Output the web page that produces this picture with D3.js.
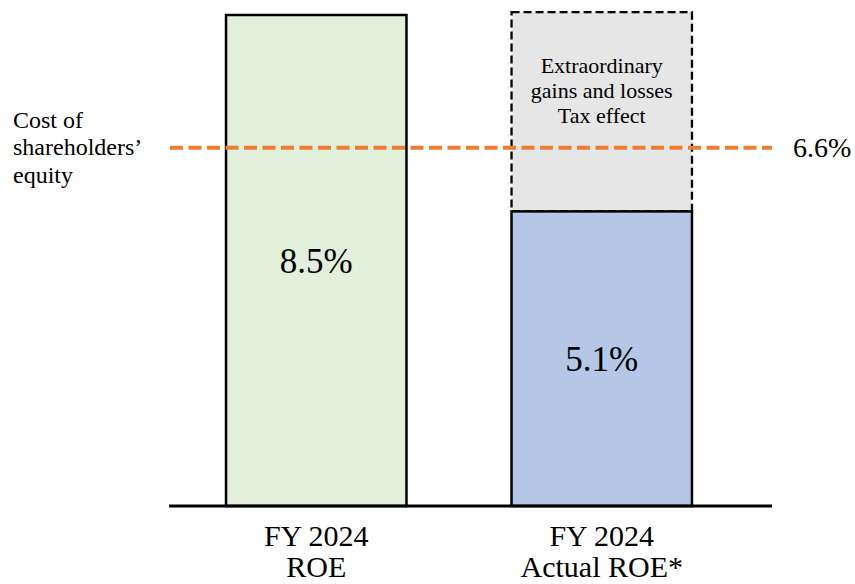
<!DOCTYPE html>
<html>
<head>
<meta charset="utf-8">
<script src="https://cdn.jsdelivr.net/npm/d3@7/dist/d3.min.js"></script>
<style>
  body { margin: 0; background: #fff; }
  text { font-family: "Liberation Serif", "Times New Roman", serif; fill: #000; }
</style>
</head>
<body>
<div id="chart"></div>
<script>
// chart values
const categories = ["FY 2024\nROE", "FY 2024\nActual ROE*"];
const roeValues = [8.5, 5.1];
const roeLabels = ["8.5%", "5.1%"];
const barColors = ["#E2EFDA", "#B4C7E7"];

// extraordinary gains/losses + tax effect, stacked on the actual ROE bar
const adjTop = 8.55;
const adjLines = ["Extraordinary", "gains and losses", "Tax effect"];

// cost of shareholders' equity (line sits at ~6.2 on the bar scale in the picture)
const costLevel = 6.2;
const costLabel = "6.6%";
const costTitle = ["Cost of", "shareholders\u2019", "equity"];

var width = 855, height = 584;

var svg = d3.select("#chart").append("svg")
    .attr("width", width)
    .attr("height", height);

var x = d3.scaleBand()
    .domain(categories)
    .range([173.5, 744.5])
    .paddingInner(0.368)
    .paddingOuter(0.184);

var y = d3.scaleLinear()
    .domain([0, 8.5])
    .range([506, 15]);

//dashed box for extraordinary items
svg.append("rect")
    .attr("x", x(categories[1]))
    .attr("y", y(adjTop))
    .attr("width", x.bandwidth())
    .attr("height", y(roeValues[1]) - y(adjTop))
    .style("fill", "#E6E6E6")
    .style("stroke", "#000")
    .style("stroke-width", 2.3)
    .style("stroke-dasharray", "8,4");

svg.append("g")
    .selectAll("text")
    .data(adjLines)
    .enter()
    .append("text")
    .attr("x", x(categories[1]) + x.bandwidth() / 2)
    .attr("y", function(d, i) { return y(adjTop) + 61 + i * 25; })
    .attr("text-anchor", "middle")
    .style("font-size", "22px")
    .text(function(d) { return d; });

//bars
svg.append("g")
    .selectAll("rect")
    .data(roeValues)
    .enter()
    .append("rect")
    .attr("x", function(d, i) { return x(categories[i]); })
    .attr("y", function(d) { return y(d); })
    .attr("width", x.bandwidth())
    .attr("height", function(d) { return y(0) - y(d); })
    .style("fill", function(d, i) { return barColors[i]; })
    .style("stroke", "#000")
    .style("stroke-width", 2.5);

//value labels in the middle of each bar
svg.append("g")
    .selectAll("text")
    .data(roeValues)
    .enter()
    .append("text")
    .attr("x", function(d, i) { return x(categories[i]) + x.bandwidth() / 2; })
    .attr("y", function(d) { return (y(d) + y(0)) / 2; })
    .attr("dy", "0.35em")
    .attr("text-anchor", "middle")
    .style("font-size", "35px")
    .text(function(d, i) { return roeLabels[i]; });

//baseline
svg.append("line")
    .attr("x1", 169)
    .attr("x2", 772)
    .attr("y1", y(0))
    .attr("y2", y(0))
    .style("stroke", "#000")
    .style("stroke-width", 3);

//category labels
var cat = svg.append("g")
    .selectAll("text")
    .data(categories)
    .enter()
    .append("text")
    .attr("text-anchor", "middle")
    .style("font-size", "30px");

cat.selectAll("tspan")
    .data(function(d) { return d.split("\n").map(function(t) { return {t: t, c: d}; }); })
    .enter()
    .append("tspan")
    .attr("x", function(d) { return x(d.c) + x.bandwidth() / 2; })
    .attr("y", function(d, i) { return 546 + i * 31; })
    .text(function(d) { return d.t; });

//cost of equity line
svg.append("line")
    .attr("x1", 170)
    .attr("x2", 772)
    .attr("y1", y(costLevel))
    .attr("y2", y(costLevel))
    .style("stroke", "#ED7D31")
    .style("stroke-width", 4)
    .style("stroke-dasharray", "13,5.5");

svg.append("text")
    .attr("x", 793)
    .attr("y", y(costLevel) + 9)
    .style("font-size", "28px")
    .text(costLabel);

svg.append("g")
    .selectAll("text")
    .data(costTitle)
    .enter()
    .append("text")
    .attr("x", 13)
    .attr("y", function(d, i) { return y(costLevel) - 20 + i * 27.5; })
    .style("font-size", "24px")
    .text(function(d) { return d; });
</script>
</body>
</html>
